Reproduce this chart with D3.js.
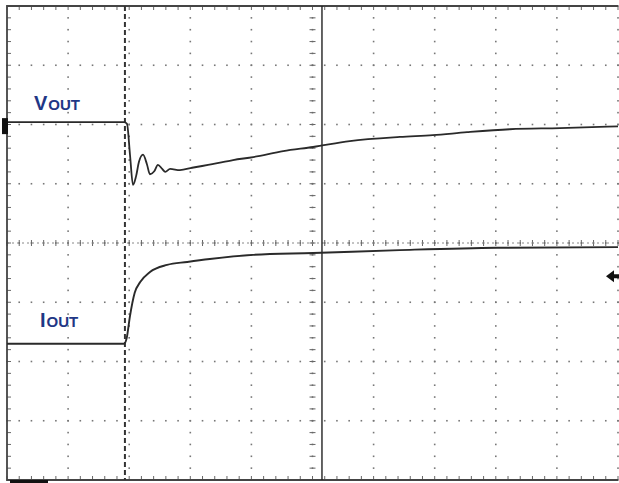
<!DOCTYPE html>
<html>
<head>
<meta charset="utf-8">
<script src="https://cdn.jsdelivr.net/npm/d3@7"></script>
<style>
  html, body { margin: 0; padding: 0; background: #fff; }
  svg { display: block; }
</style>
</head>
<body>
<div id="chart"></div>
<script>
// scope screen, values in divisions (time: 10 div across, level: 8 div up from bottom)
const vTime  = [0, 1.915, 1.964, 2.013, 2.062, 2.111, 2.16, 2.226, 2.29, 2.34, 2.41, 2.47, 2.54, 2.59, 2.67, 2.83, 3.03, 3.36, 3.70, 4.03, 4.52, 5.01, 5.61, 6.43, 6.97, 7.53, 8.23, 9.05, 10];
const vLevel = [6.04, 6.04, 6.01, 5.49, 4.98, 5.12, 5.37, 5.49, 5.33, 5.16, 5.21, 5.32, 5.25, 5.20, 5.25, 5.23, 5.27, 5.33, 5.40, 5.45, 5.55, 5.62, 5.72, 5.79, 5.82, 5.87, 5.92, 5.94, 5.97];

const iTime  = [0, 1.915, 1.96, 2.01, 2.09, 2.18, 2.34, 2.62, 2.95, 3.32, 4.03, 5.01, 6.43, 8.02, 10];
const iLevel = [2.30, 2.30, 2.40, 2.75, 3.16, 3.34, 3.51, 3.63, 3.68, 3.73, 3.80, 3.83, 3.88, 3.92, 3.93];

const labels = [
  { big: "V", small: "OUT", t: 0.44, lvl: 6.24 },
  { big: "I", small: "OUT", t: 0.54, lvl: 2.58 }
];

const trigTime = 1.93;     // dashed trigger marker
const cursorTime = 5.155;  // solid cursor
const trigLevel = 3.44;    // arrow on right edge

const W = 619, H = 483;
const x = d3.scaleLinear().domain([0, 10]).range([7, 618]);
const y = d3.scaleLinear().domain([0, 8]).range([480, 6]);

const svg = d3.select('#chart').append('svg').attr('width', W).attr('height', H);

// minor dots on grid lines
const minor = d3.range(0, 50.001, 1).map((k) => k / 5);
const minorY = d3.range(0, 40.001, 1).map((k) => k / 5);
const dots = svg.append('g').attr('fill', '#777');
d3.range(1, 11).forEach((c) => {
  minorY.forEach((m) => {
    dots.append('rect').attr('x', x(c) - 0.8).attr('y', y(m) - 0.8).attr('width', 1.6).attr('height', 1.6);
  });
});
d3.range(1, 8).forEach((r) => {
  minor.forEach((m) => {
    dots.append('rect').attr('x', x(m) - 0.8).attr('y', y(r) - 0.8).attr('width', 1.6).attr('height', 1.6);
  });
});

// center cross with ticks
const ticks = svg.append('g').attr('stroke', '#666').attr('stroke-width', 1);
minor.forEach((m) => {
  ticks.append('line').attr('x1', x(m)).attr('x2', x(m)).attr('y1', y(4) - 3).attr('y2', y(4) + 3);
});
minorY.forEach((m) => {
  ticks.append('line').attr('x1', x(5) - 3).attr('x2', x(5) + 3).attr('y1', y(m)).attr('y2', y(m));
});
svg.append('line').attr('x1', x(0)).attr('x2', x(10)).attr('y1', y(4)).attr('y2', y(4))
  .attr('stroke', '#888').attr('stroke-width', 1).attr('stroke-dasharray', '2,3');

// border ticks
minor.forEach((m) => {
  ticks.append('line').attr('x1', x(m)).attr('x2', x(m)).attr('y1', y(8)).attr('y2', y(8) + 4);
  ticks.append('line').attr('x1', x(m)).attr('x2', x(m)).attr('y1', y(0)).attr('y2', y(0) - 4);
});
minorY.forEach((m) => {
  ticks.append('line').attr('x1', x(0)).attr('x2', x(0) + 4).attr('y1', y(m)).attr('y2', y(m));
});

// borders (left, top, bottom)
svg.append('path')
  .attr('d', `M${x(10)},${y(8)}H${x(0)}V${y(0)}H${x(10)}`)
  .attr('fill', 'none').attr('stroke', '#444').attr('stroke-width', 1.8);

// trigger marker and cursor
svg.append('line').attr('x1', x(trigTime)).attr('x2', x(trigTime)).attr('y1', y(8)).attr('y2', y(0))
  .attr('stroke', '#333').attr('stroke-width', 2).attr('stroke-dasharray', '5,3');
svg.append('line').attr('x1', x(cursorTime)).attr('x2', x(cursorTime)).attr('y1', y(8)).attr('y2', y(0))
  .attr('stroke', '#222').attr('stroke-width', 1.4);

// traces
const line = d3.line().curve(d3.curveMonotoneX);
const vPts = vTime.map((t, i) => [x(t), y(vLevel[i])]);
const iPts = iTime.map((t, i) => [x(t), y(iLevel[i])]);
svg.append('path').attr('d', line(vPts)).attr('fill', 'none').attr('stroke', '#2a2a2a').attr('stroke-width', 1.8);
svg.append('path').attr('d', line(iPts)).attr('fill', 'none').attr('stroke', '#2a2a2a').attr('stroke-width', 1.9);

// channel marker on left, trigger level arrow on right, bottom-left bar
svg.append('rect').attr('x', 2).attr('y', y(vLevel[0]) - 4).attr('width', 6).attr('height', 16).attr('fill', '#111');
svg.append('path')
  .attr('d', `M${W - 13},${y(trigLevel)}l8,-6v4h6v4h-6v4z`)
  .attr('fill', '#111');
svg.append('rect').attr('x', 10).attr('y', 480).attr('width', 38).attr('height', 3).attr('fill', '#111');

// labels
labels.forEach((d) => {
  const tx = svg.append('text')
    .attr('x', x(d.t)).attr('y', y(d.lvl))
    .attr('fill', '#1f3786')
    .attr('font-family', 'Liberation Sans, Arial, sans-serif')
    .attr('font-weight', 'bold');
  tx.append('tspan').attr('font-size', 20).text(d.big);
  tx.append('tspan').attr('font-size', 15).attr('dx', 1).text(d.small);
});
</script>
</body>
</html>
